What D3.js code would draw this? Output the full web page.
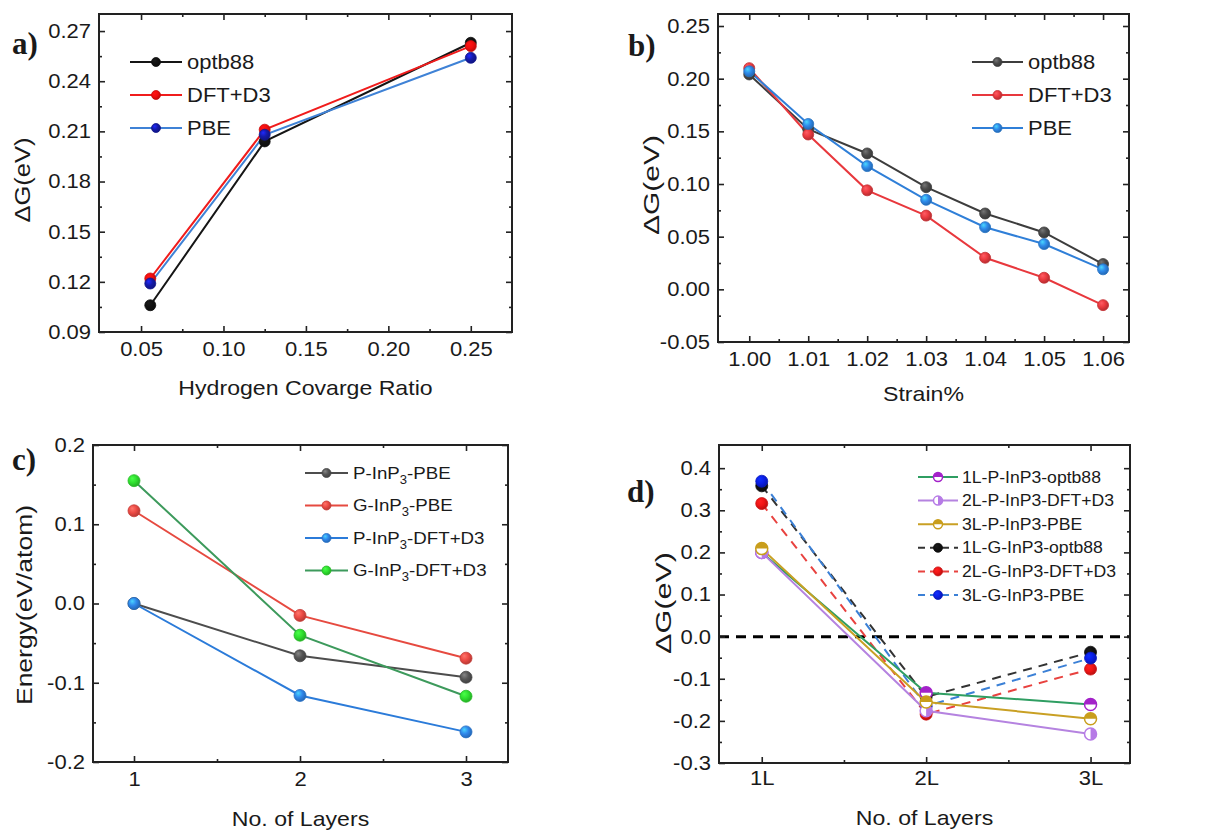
<!DOCTYPE html>
<html>
<head>
<meta charset="utf-8">
<script src="https://cdn.jsdelivr.net/npm/d3@7"></script>
<style>
  body { margin: 0; background: #fff; }
  svg { display: block; }
  text { font-family: "Liberation Sans", Arial, sans-serif; fill: #1a1a1a; }
</style>
</head>
<body>
<svg id="fig" width="1222" height="834"></svg>
<script>
// ---- a) hydrogen coverage ----
const coverage = [0.0556, 0.125, 0.25];
const covOptb88 = [0.106, 0.204, 0.263];
const covDftD3 = [0.122, 0.211, 0.261];
const covPbe = [0.119, 0.208, 0.254];
const covNames = ["optb88", "DFT+D3", "PBE"];
const covYTicks = [0.09, 0.12, 0.15, 0.18, 0.21, 0.24, 0.27];
const covXTicks = [0.05, 0.10, 0.15, 0.20, 0.25];

// ---- b) strain ----
const strain = [1.00, 1.01, 1.02, 1.03, 1.04, 1.05, 1.06];
const strainOptb88 = [0.204, 0.152, 0.129, 0.097, 0.072, 0.054, 0.024];
const strainDftD3 = [0.210, 0.147, 0.094, 0.070, 0.030, 0.011, -0.015];
const strainPbe = [0.207, 0.157, 0.117, 0.085, 0.059, 0.043, 0.019];
const strainNames = ["optb88", "DFT+D3", "PBE"];
const strainYTicks = [-0.05, 0.00, 0.05, 0.10, 0.15, 0.20, 0.25];

// ---- c) energy vs layers ----
const layers = [1, 2, 3];
const energyPPbe = [0.000, -0.066, -0.093];
const energyGPbe = [0.117, -0.015, -0.069];
const energyPDftD3 = [0.000, -0.116, -0.162];
const energyGDftD3 = [0.155, -0.040, -0.117];
const energyNames = [["P-InP", "3", "-PBE"], ["G-InP", "3", "-PBE"], ["P-InP", "3", "-DFT+D3"], ["G-InP", "3", "-DFT+D3"]];
const energyYTicks = [-0.2, -0.1, 0.0, 0.1, 0.2];

// ---- d) dG vs layers ----
const layerLabels = ["1L", "2L", "3L"];
const dgP1 = [0.200, -0.133, -0.161];
const dgP2 = [0.200, -0.176, -0.231];
const dgP3 = [0.209, -0.155, -0.195];
const dgG1 = [0.358, -0.143, -0.037];
const dgG2 = [0.316, -0.184, -0.077];
const dgG3 = [0.369, -0.165, -0.051];
const dgNames = ["1L-P-InP3-optb88", "2L-P-InP3-DFT+D3", "3L-P-InP3-PBE", "1L-G-InP3-optb88", "2L-G-InP3-DFT+D3", "3L-G-InP3-PBE"];
const dgYTicks = [-0.3, -0.2, -0.1, 0.0, 0.1, 0.2, 0.3, 0.4];

const svg = d3.select("#fig");
const defs = svg.append("defs");
const fmt = n => d => d.toFixed(n);
let gradId = 0;

function ball(color) {
    const id = "ball" + (gradId++);
    const c = d3.color(color);
    const gr = defs.append("radialGradient").attr("id", id)
        .attr("cx", "40%").attr("cy", "40%").attr("r", "60%").attr("fx", "35%").attr("fy", "30%");
    gr.append("stop").attr("offset", "0%").attr("stop-color", c.brighter(1.3).formatHex());
    gr.append("stop").attr("offset", "55%").attr("stop-color", c.formatHex());
    gr.append("stop").attr("offset", "100%").attr("stop-color", c.darker(0.7).formatHex());
    return `url(#${id})`;
}

function drawMarker(g, cx, cy, r, s) {
    if (!s.half) {
        g.append("circle").attr("cx", cx).attr("cy", cy).attr("r", r)
            .attr("fill", s.fill).attr("stroke", d3.color(s.marker).darker(0.5)).attr("stroke-width", 0.8);
        return;
    }
    g.append("circle").attr("cx", cx).attr("cy", cy).attr("r", r)
        .attr("fill", "#fff").attr("stroke", s.marker).attr("stroke-width", 1.5);
    const p = s.half === "top"
        ? `M${-r},0A${r},${r} 0 0 1 ${r},0Z`
        : `M0,${-r}A${r},${r} 0 0 1 0,${r}Z`;
    g.append("path").attr("d", p).attr("transform", `translate(${cx},${cy})`).attr("fill", s.marker);
}

function panel(cfg) {
    const g = svg.append("g");
    const x = d3.scaleLinear().domain(cfg.xDomain).range([cfg.left, cfg.right]);
    const y = d3.scaleLinear().domain(cfg.yDomain).range([cfg.bottom, cfg.top]);

    const axes = g.append("g").attr("class", "axes");
    axes.append("g").attr("transform", `translate(0,${cfg.bottom})`)
        .call(d3.axisBottom(x).tickValues(cfg.xTicks).tickSize(-6).tickPadding(cfg.xPad || 10).tickFormat(cfg.xFormat));
    axes.append("g").attr("transform", `translate(0,${cfg.bottom})`)
        .call(d3.axisBottom(x).tickValues(cfg.xMinor).tickSize(-3).tickFormat(""));
    axes.append("g").attr("transform", `translate(0,${cfg.top})`)
        .call(d3.axisTop(x).tickValues(cfg.xTicks).tickSize(-6).tickFormat(""));
    axes.append("g").attr("transform", `translate(0,${cfg.top})`)
        .call(d3.axisTop(x).tickValues(cfg.xMinor).tickSize(-3).tickFormat(""));
    axes.append("g").attr("transform", `translate(${cfg.left},0)`)
        .call(d3.axisLeft(y).tickValues(cfg.yTicks).tickSize(-6).tickPadding(8).tickFormat(cfg.yFormat));
    axes.append("g").attr("transform", `translate(${cfg.left},0)`)
        .call(d3.axisLeft(y).tickValues(cfg.yMinor).tickSize(-3).tickFormat(""));
    axes.append("g").attr("transform", `translate(${cfg.right},0)`)
        .call(d3.axisRight(y).tickValues(cfg.yTicks).tickSize(-6).tickFormat(""));
    axes.append("g").attr("transform", `translate(${cfg.right},0)`)
        .call(d3.axisRight(y).tickValues(cfg.yMinor).tickSize(-3).tickFormat(""));
    axes.selectAll(".domain").remove();
    axes.selectAll(".tick line").attr("stroke", "#222").attr("stroke-width", 1.6);
    axes.selectAll(".tick text").attr("font-size", 20).attr("fill", "#1a1a1a")
        .style("font-family", '"Liberation Sans", Arial, sans-serif').classed("stretch", true);

    g.append("rect").attr("x", cfg.left).attr("y", cfg.top)
        .attr("width", cfg.right - cfg.left).attr("height", cfg.bottom - cfg.top)
        .attr("fill", "none").attr("stroke", "#222").attr("stroke-width", 2);

    g.append("text").attr("x", (cfg.left + cfg.right) / 2).attr("y", cfg.xTitleY)
        .attr("text-anchor", "middle").attr("font-size", 21).classed("stretch", true).text(cfg.xTitle);
    g.append("text").attr("transform", `translate(${cfg.yTitleX},${cfg.yTitleY}) rotate(-90)`)
        .attr("text-anchor", "middle").attr("dominant-baseline", "central").attr("font-size", 22)
        .attr("textLength", cfg.yTitleLen).attr("lengthAdjust", "spacingAndGlyphs").text(cfg.yTitle);
    // panel letter in bold serif (style, so the css sans rule does not win)
    g.append("text").attr("x", cfg.tagX).attr("y", cfg.tagY)
        .style("font-family", '"Liberation Serif", "Times New Roman", serif')
        .attr("font-weight", "bold").attr("font-size", 31).text(cfg.tag);

    return {g, x, y};
}

function drawSeries(p, series, r) {
    const lines = p.g.append("g");
    series.forEach(s => {
        lines.append("path").datum(s.values)
            .attr("d", d3.line().x((d, i) => p.x(s.xs[i])).y(d => p.y(d)))
            .attr("fill", "none").attr("stroke", s.line).attr("stroke-width", 2)
            .attr("stroke-dasharray", s.dash || null);
    });
    const marks = p.g.append("g");
    series.forEach(s => {
        s.values.forEach((v, i) => drawMarker(marks, p.x(s.xs[i]), p.y(v), r, s));
    });
}

function legend(g, series, cfg) {
    series.forEach((s, i) => {
        const cy = cfg.y + i * cfg.dy;
        g.append("line").attr("x1", cfg.x1).attr("x2", cfg.x2).attr("y1", cy).attr("y2", cy)
            .attr("stroke", s.line).attr("stroke-width", 2).attr("stroke-dasharray", s.dash ? "7,5" : null);
        drawMarker(g, (cfg.x1 + cfg.x2) / 2, cy, cfg.r, s);
        const t = g.append("text").attr("x", cfg.tx).attr("y", cy).attr("dy", "0.35em")
            .attr("font-size", cfg.fs).classed("stretch", true);
        const name = s.name;
        if (Array.isArray(name)) {
            t.append("tspan").text(name[0]);
            t.append("tspan").attr("dy", 5).attr("font-size", cfg.fs * 0.7).text(name[1]);
            t.append("tspan").attr("dy", -5).text(name[2]);
        } else {
            t.text(name);
        }
    });
}

// ---------- panel a ----------
const pa = panel({
    left: 99, right: 512, top: 14, bottom: 332,
    xDomain: [0.0245, 0.275], yDomain: [0.09, 0.2802],
    xTicks: covXTicks, xMinor: [0.075, 0.125, 0.175, 0.225],
    yTicks: covYTicks, yMinor: [0.105, 0.135, 0.165, 0.195, 0.225, 0.255],
    xFormat: fmt(2), yFormat: fmt(2),
    xTitle: "Hydrogen Covarge Ratio", xTitleY: 395,
    yTitle: "\u0394G(eV)", yTitleX: 22, yTitleY: 180, yTitleLen: 85,
    tag: "a)", tagX: 12, tagY: 54
});
const covSeries = [
    {name: covNames[0], xs: coverage, values: covOptb88, line: "#151515", marker: "#111"},
    {name: covNames[1], xs: coverage, values: covDftD3, line: "#f01c1c", marker: "#f20d0d"},
    {name: covNames[2], xs: coverage, values: covPbe, line: "#3f82d6", marker: "#141aa8"}
];
covSeries.forEach(s => s.fill = ball(s.marker));
drawSeries(pa, covSeries, 5.5);
legend(pa.g, covSeries, {x1: 130, x2: 182, tx: 187, y: 62, dy: 33, r: 4.5, fs: 20});

// ---------- panel b ----------
const pb = panel({
    left: 718, right: 1129, top: 14, bottom: 342,
    xDomain: [0.9947, 1.0644], yDomain: [-0.05, 0.2614],
    xTicks: strain, xMinor: [1.005, 1.015, 1.025, 1.035, 1.045, 1.055],
    yTicks: strainYTicks, yMinor: [-0.025, 0.025, 0.075, 0.125, 0.175, 0.225],
    xFormat: fmt(2), yFormat: fmt(2),
    xTitle: "Strain%", xTitleY: 401,
    yTitle: "\u0394G(eV)", yTitleX: 651, yTitleY: 185, yTitleLen: 100,
    tag: "b)", tagX: 628, tagY: 56
});
const strainSeries = [
    {name: strainNames[0], xs: strain, values: strainOptb88, line: "#3d3d3d", marker: "#4a4a4a"},
    {name: strainNames[1], xs: strain, values: strainDftD3, line: "#e8383d", marker: "#ea3a3f"},
    {name: strainNames[2], xs: strain, values: strainPbe, line: "#2f7fd8", marker: "#2e88e8"}
];
strainSeries.forEach(s => s.fill = ball(s.marker));
drawSeries(pb, strainSeries, 5.5);
legend(pb.g, strainSeries, {x1: 972, x2: 1023, tx: 1028, y: 62, dy: 33, r: 4.5, fs: 20});

// ---------- panel c ----------
const pc = panel({
    left: 93, right: 508, top: 445, bottom: 762,
    xDomain: [0.753, 3.253], yDomain: [-0.2, 0.2],
    xTicks: layers, xMinor: [1.5, 2.5],
    yTicks: energyYTicks, yMinor: [-0.15, -0.05, 0.05, 0.15],
    xFormat: d => String(d), yFormat: fmt(1),
    xTitle: "No. of Layers", xTitleY: 826,
    yTitle: "Energy(eV/atom)", yTitleX: 24, yTitleY: 605, yTitleLen: 200,
    tag: "c)", tagX: 12, tagY: 470
});
const energySeries = [
    {name: energyNames[0], xs: layers, values: energyPPbe, line: "#4d4d4d", marker: "#555"},
    {name: energyNames[1], xs: layers, values: energyGPbe, line: "#e64a40", marker: "#ec4a44"},
    {name: energyNames[2], xs: layers, values: energyPDftD3, line: "#2b7bd9", marker: "#2f86ea"},
    {name: energyNames[3], xs: layers, values: energyGDftD3, line: "#3d9a5c", marker: "#2fe02f"}
];
energySeries.forEach(s => s.fill = ball(s.marker));
drawSeries(pc, energySeries, 6);
legend(pc.g, energySeries, {x1: 305, x2: 348, tx: 353, y: 473, dy: 32.5, r: 4.5, fs: 17});

// ---------- panel d ----------
const pd = panel({
    left: 719, right: 1130, top: 445, bottom: 763,
    xDomain: [0.74, 3.24], yDomain: [-0.3, 0.455],
    xTicks: layers, xMinor: [1.5, 2.5],
    yTicks: dgYTicks, yMinor: [-0.25, -0.15, -0.05, 0.05, 0.15, 0.25, 0.35],
    xFormat: d => layerLabels[d - 1], yFormat: fmt(1), xPad: 8,
    xTitle: "No. of Layers", xTitleY: 825,
    yTitle: "\u0394G(eV)", yTitleX: 663, yTitleY: 603, yTitleLen: 102,
    tag: "d)", tagX: 627, tagY: 502
});
pd.g.insert("line", ".axes")
    .attr("x1", pd.x.range()[0]).attr("x2", pd.x.range()[1])
    .attr("y1", pd.y(0)).attr("y2", pd.y(0))
    .attr("stroke", "#000").attr("stroke-width", 3).attr("stroke-dasharray", "10,7");
const dgSeries = [
    {name: dgNames[0], xs: layers, values: dgP1, line: "#2f9e62", marker: "#a322c9", half: "top"},
    {name: dgNames[1], xs: layers, values: dgP2, line: "#b583e0", marker: "#b67ae6", half: "right"},
    {name: dgNames[2], xs: layers, values: dgP3, line: "#c9a024", marker: "#c99e1c", half: "top"},
    {name: dgNames[3], xs: layers, values: dgG1, line: "#333", marker: "#111", dash: "9,7"},
    {name: dgNames[4], xs: layers, values: dgG2, line: "#e8423f", marker: "#f01515", dash: "9,7"},
    {name: dgNames[5], xs: layers, values: dgG3, line: "#3b80d6", marker: "#0a1ee6", dash: "9,7"}
];
dgSeries.forEach(s => { if (!s.half) s.fill = ball(s.marker); });
// dashed G lines under the P lines
drawSeries(pd, dgSeries.slice(3), 6);
drawSeries(pd, dgSeries.slice(0, 3), 6);
legend(pd.g, dgSeries, {x1: 918, x2: 958, tx: 962, y: 477, dy: 23.6, r: 4.5, fs: 16});

// reference text looks a bit wider than Liberation Sans
svg.selectAll("text.stretch").each(function() {
    const len = this.getComputedTextLength();
    d3.select(this).attr("textLength", len * 1.1).attr("lengthAdjust", "spacingAndGlyphs");
});
</script>
</body>
</html>
